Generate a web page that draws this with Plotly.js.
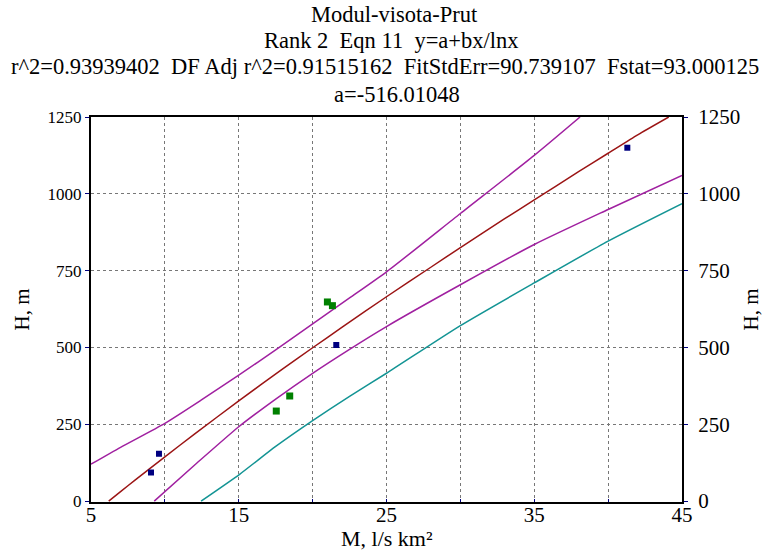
<!DOCTYPE html>
<html>
<head>
<meta charset="utf-8">
<script src="https://cdn.plot.ly/plotly-3.0.1.min.js"></script>
<style>html,body{margin:0;padding:0;background:#fff;}#chart{width:766px;height:550px;}</style>
</head>
<body>
<div id="chart"></div>
<script>
// Data
var blueX = [9.06, 9.6, 21.6, 41.3];
var blueY = [93, 154, 508, 1150];
var greenX = [17.54, 18.45, 21.0, 21.34];
var greenY = [293, 342, 648, 636];

var fitX = [6.2, 7, 8, 10, 12, 15, 18, 20, 22, 25, 28, 30, 33, 35, 38, 40, 42, 44.1];
var fitY = [0, 31, 69, 144, 218, 326, 431, 499, 566, 665, 761, 825, 919, 980, 1072, 1132, 1192, 1250];

var upperX = [5, 7, 10, 12.5, 15, 17.5, 20, 22.5, 25, 30, 35, 38.1];
var upperY = [120, 175, 253, 330, 410, 492, 577, 661, 746, 936, 1125, 1250];

var lowerX = [9.28, 12.15, 15, 17.5, 20, 22.5, 25, 30, 35, 40, 45];
var lowerY = [0, 123, 242, 332, 416, 494, 568, 704, 835, 949, 1060];

var tealX = [12.45, 15.08, 17.5, 20, 22.5, 25, 30, 35, 40, 45];
var tealY = [0, 88, 178, 262, 341, 416, 571, 710, 846, 968];

var xTickVals = [5, 10, 15, 20, 25, 30, 35, 40, 45];
var xTickText = ['5', '', '15', '', '25', '', '35', '', '45'];
var yTickVals = [0, 250, 500, 750, 1000, 1250];

var titleLines = [
  'Modul-visota-Prut',
  'Rank 2\u00a0\u00a0Eqn 11\u00a0\u00a0y=a+bx/lnx',
  'r^2=0.93939402\u00a0\u00a0DF Adj r^2=0.91515162\u00a0\u00a0FitStdErr=90.739107\u00a0\u00a0Fstat=93.000125',
  'a=-516.01048'
];
var titleCenters = [15, 41, 67, 94];
var titleXs = [395, 391, 385, 397];
var xTitle = 'M, l/s km\u00b2';

var serif = 'Liberation Serif';
var purple = '#a020a0';
var brown = '#9b1414';
var teal = '#139494';

function line(x, y, c) {
  return {x: x, y: y, mode: 'lines', line: {color: c, width: 1.5, shape: 'spline', smoothing: 0.6}, hoverinfo: 'skip'};
}

var traces = [
  line(upperX, upperY, purple),
  line(lowerX, lowerY, purple),
  line(tealX, tealY, teal),
  line(fitX, fitY, brown),
  {x: greenX, y: greenY, mode: 'markers', marker: {symbol: 'square', size: 7, color: '#008000'}},
  {x: blueX, y: blueY, mode: 'markers', marker: {symbol: 'square', size: 6, color: '#000080'}},
  {x: [], y: [], yaxis: 'y2', mode: 'markers', showlegend: false}
];

var plotLeft = 91, plotRight = 682, plotTop = 117, plotBottom = 502;
function paperY(py) { return (plotBottom - py) / (plotBottom - plotTop); }
function paperX(px) { return (px - plotLeft) / (plotRight - plotLeft); }

var annotations = titleLines.map(function (t, i) {
  return {
    text: t, xref: 'paper', yref: 'paper', x: paperX(titleXs[i]), xanchor: 'center',
    y: paperY(titleCenters[i]), yanchor: 'middle', showarrow: false,
    font: {family: serif, size: 22.5, color: '#000'}
  };
});
annotations.push({
  text: xTitle, xref: 'paper', yref: 'paper', x: 0.5, xanchor: 'center',
  y: paperY(553), yanchor: 'bottom', showarrow: false,
  font: {family: serif, size: 22, color: '#000'}
});

var layout = {
  width: 766, height: 550,
  margin: {l: plotLeft, r: 766 - plotRight, t: plotTop, b: 550 - plotBottom, pad: 0},
  paper_bgcolor: '#fff', plot_bgcolor: '#fff',
  showlegend: false,
  font: {family: serif, color: '#000'},
  annotations: annotations,
  xaxis: {
    range: [5, 45],
    tickvals: xTickVals, ticktext: xTickText,
    ticks: 'inside', ticklen: 3, tickcolor: '#000080', tickwidth: 1,
    ticklabelstandoff: -7,
    tickfont: {family: serif, size: 21, color: '#000'},
    showgrid: true, gridcolor: '#777', griddash: 'dot', gridwidth: 1,
    zeroline: false,
    showline: true, linecolor: '#000', linewidth: 2, mirror: true
  },
  yaxis: {
    range: [-3, 1250],
    tickvals: yTickVals,
    ticks: 'outside', ticklen: 4, tickcolor: '#000080', tickwidth: 1,
    tickfont: {family: serif, size: 17, color: '#000'},
    showgrid: true, gridcolor: '#777', griddash: 'dot', gridwidth: 1,
    zeroline: false,
    showline: true, linecolor: '#000', linewidth: 2, mirror: 'ticks',
    title: {text: 'H, m', font: {family: serif, size: 21, color: '#000'}, standoff: 12}
  },
  yaxis2: {
    overlaying: 'y', side: 'right',
    range: [-3, 1250],
    tickvals: yTickVals,
    ticks: 'outside', ticklen: 11, tickcolor: 'rgba(0,0,0,0)',
    tickfont: {family: serif, size: 21, color: '#000'},
    showgrid: false, zeroline: false,
    showline: false,
    title: {text: 'H, m', font: {family: serif, size: 21, color: '#000'}, standoff: 4}
  }
};

Plotly.newPlot('chart', traces, layout, {staticPlot: true, displayModeBar: false});
</script>
</body>
</html>
